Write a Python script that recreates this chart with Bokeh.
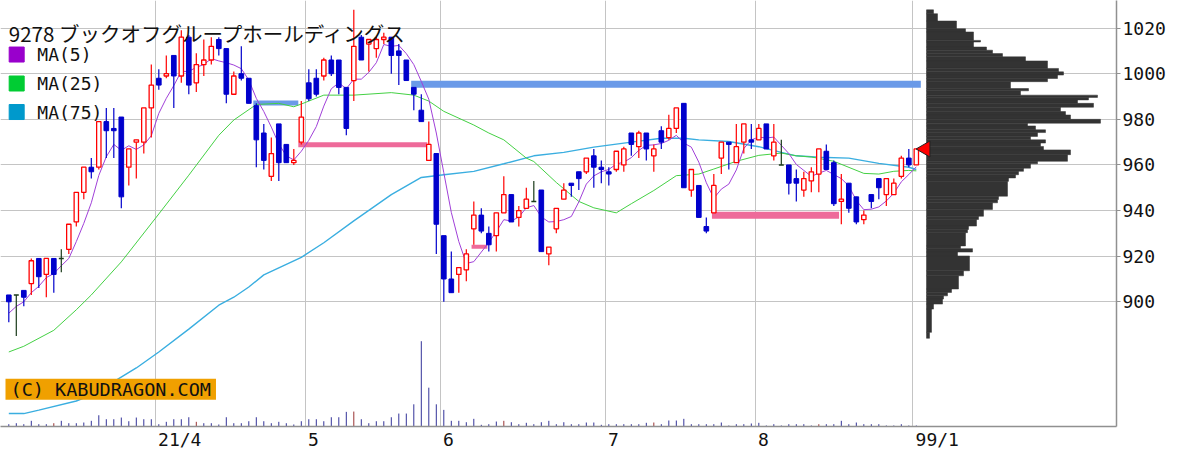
import numpy as np
import pandas as pd
from bokeh.plotting import figure
from bokeh.models import Range1d, FixedTicker, Label
from bokeh.embed import file_html
from bokeh.resources import INLINE

# ---------------- data ----------------
TITLE = "9278 ブックオフグループホールディングス"

opens = [903, 903, 905, 908, 919, 912, 919, 919, 923, 935,
         948, 959, 959, 979, 976, 981, 959, 970, 970, 985,
         998, 999, 1008, 999, 1016, 996, 1004, 1006, 1015, 1011,
         991, 1000, 998, 986, 974, 955, 978, 969, 961, 970,
         996, 998, 999, 1006, 1006, 994, 997, 1016, 1013, 1011,
         1015, 1016, 1010, 1006, 994, 984, 962, 965, 929, 910,
         912, 914, 932, 938, 930, 929, 939, 947, 937, 941,
         944, 949, 921, 932, 945, 952, 957, 957, 964, 959,
         957, 958, 960, 974, 968, 974, 964, 975, 972, 976,
         987, 949, 951, 933, 939, 963, 970, 961, 970, 971,
         971, 978, 964, 960, 960, 954, 949, 953, 956, 966,
         961, 944, 952, 946, 936, 947, 954, 947, 947, 955,
         963, 960]
highs = [903, 903, 905, 919, 919, 919, 919, 923, 934, 948,
         959, 963, 979, 985, 985, 981, 967, 971, 985, 1004,
         1002, 1008, 1008, 1019, 1017, 1009, 1015, 1016, 1016, 1011,
         1001, 1012, 998, 987, 978, 972, 978, 969, 967, 988,
         1002, 1002, 1007, 1008, 1006, 994, 1028, 1017, 1015, 1016,
         1018, 1016, 1013, 1006, 994, 991, 979, 965, 929, 922,
         915, 923, 944, 941, 933, 939, 955, 947, 942, 950,
         953, 949, 924, 941, 952, 952, 957, 963, 967, 962,
         959, 966, 968, 974, 975, 974, 969, 977, 982, 985,
         987, 958, 951, 937, 956, 970, 970, 978, 978, 978,
         978, 978, 978, 971, 960, 958, 957, 959, 967, 969,
         962, 956, 952, 946, 940, 947, 954, 954, 954, 964,
         967, 967]
lows = [891, 885, 898, 903, 906, 902, 904, 913, 921, 933,
        945, 954, 958, 963, 963, 941, 951, 954, 965, 972,
        993, 998, 985, 996, 991, 992, 999, 1004, 1008, 987,
        991, 997, 987, 959, 958, 953, 953, 961, 960, 969,
        988, 990, 997, 999, 991, 973, 988, 1006, 1001, 1007,
        1013, 1000, 995, 997, 984, 979, 962, 921, 900, 904,
        904, 909, 925, 930, 922, 922, 939, 935, 933, 941,
        944, 922, 916, 930, 945, 946, 949, 956, 950, 952,
        951, 957, 957, 964, 963, 962, 957, 967, 971, 974,
        950, 946, 937, 930, 939, 956, 958, 961, 965, 967,
        971, 967, 962, 960, 947, 944, 946, 948, 948, 958,
        942, 934, 939, 934, 934, 941, 945, 942, 947, 954,
        959, 960]
closes = [900, 903, 902, 918, 911, 919, 912, 919, 934, 948,
          959, 957, 979, 975, 975, 946, 967, 971, 985, 995,
          995, 1000, 999, 1016, 995, 1004, 1006, 1012, 1011, 991,
          999, 998, 987, 971, 962, 965, 961, 961, 962, 981,
          989, 991, 1006, 1000, 994, 976, 1012, 1006, 1015, 1015,
          1016, 1008, 1008, 997, 991, 979, 969, 934, 910, 904,
          915, 921, 938, 931, 925, 939, 947, 935, 940, 945,
          944, 922, 924, 941, 949, 951, 954, 963, 959, 958,
          956, 966, 967, 969, 974, 967, 967, 970, 976, 985,
          950, 958, 937, 931, 951, 970, 969, 968, 978, 970,
          976, 967, 970, 960, 952, 952, 954, 957, 967, 958,
          943, 945, 941, 935, 938, 944, 950, 954, 952, 963,
          960, 967]
# daily volume (arbitrary units)
volume = [23, 33, 23, 57, 23, 23, 33, 57, 33, 33,
          40, 57, 113, 73, 73, 90, 53, 90, 73, 73,
          23, 47, 73, 73, 93, 47, 33, 33, 20, 93,
          33, 33, 53, 93, 53, 33, 47, 33, 20, 53,
          73, 73, 53, 93, 93, 147, 150, 73, 33, 53,
          53, 93, 130, 130, 223, 857, 390, 223, 167, 57,
          57, 43, 77, 17, 23, 50, 57, 43, 23, 37,
          23, 43, 57, 23, 43, 23, 23, 40, 40, 17,
          23, 23, 23, 23, 23, 37, 40, 23, 60, 60,
          77, 23, 23, 23, 23, 40, 10, 23, 23, 30,
          37, 10, 23, 10, 23, 23, 23, 10, 23, 23,
          23, 57, 23, 40, 23, 23, 23, 10, 10, 23,
          10, 10]
vol_marked = [6, 25, 46, 66, 86, 108]

ma5_head = [895, 898, 900, 904]
ma25_idx = [0, 2, 6, 9, 11, 15, 20, 24, 28, 30, 33, 36, 38, 39, 42, 46, 51, 54, 56, 58,
            62, 64, 66, 69, 70, 73, 76, 78, 81, 83, 86, 89, 92, 94, 97, 100, 103, 105,
            107, 110, 114, 116, 118, 120, 121]
ma25_val = [878, 880.5, 887.5, 896.5, 903, 917.5, 938.5, 955.5, 973, 979.7, 986.5, 987,
            985.5, 986.7, 990.6, 990.6, 991.7, 990.6, 988, 983.5, 977.5, 974, 971, 963,
            961.5, 952.3, 944, 941.2, 939, 943, 948.8, 955.3, 956, 958.2, 961.6, 964.2,
            965.2, 964, 963.5, 961.6, 956.3, 956, 957.2, 957.6, 957.4]
ma75_idx = [0, 2, 4, 9, 12, 14, 17, 20, 24, 28, 30, 32, 34, 39, 42, 46, 51, 55, 58, 62,
            66, 70, 74, 78, 83, 87, 90, 92, 96, 100, 103, 105, 108, 112, 116, 120, 121]
ma75_val = [851, 851, 852.5, 856.5, 860.5, 865, 871, 878, 888, 898.5, 902, 906.5, 911.8,
            919.5, 925.9, 935.5, 947, 954.5, 955.7, 957.2, 960.5, 964, 965.5, 967.8, 970,
            971.7, 971.7, 971, 970.3, 968, 965.5, 964, 963.4, 963, 960.7, 959, 958]

month_start = [20, 40, 58, 80, 100, 121]
month_labels = ["21/4", "5", "6", "7", "8", "99/1"]
price_ticks = [900, 920, 940, 960, 980, 1000, 1020]

# horizontal levels (start candle, end candle, price)
level_start = [53.65, 32.6, 38.6, 61.7, 93.75]
level_end = [121.6, 38.6, 55.8, 63.8, 110.7]
level_price = [995.4, 987.1, 968.8, 924.1, 937.9]
level_kind = ["resistance", "resistance", "support", "support", "support"]

# volume-at-price profile
vp_edges = [1028.0, 1026.3, 1023.1, 1019.7, 1018.3, 1014.6, 1013.9, 1011.7, 1010.3, 1008.8,
            1007.4, 1005.6, 1002.3, 1000.8, 999.4, 997.9, 996.5, 993.5, 992.5, 990.6,
            989.6, 988.5, 987.0, 985.3, 983.4, 981.9, 980.0, 978.3, 977.1, 975.4,
            974.2, 972.5, 971.0, 969.6, 968.1, 966.6, 964.5, 961.6, 960.5, 958.6,
            957.2, 955.7, 954.3, 952.8, 946.3, 944.8, 943.4, 940.5, 937.5, 936.1,
            933.2, 931.7, 930.3, 924.5, 923.3, 921.8, 920.1, 913.6, 911.4, 905.6,
            904.1, 902.6, 901.2, 899.0, 896.8, 886.6, 884.0]
vp_volume = [7, 11, 30, 39, 47, 54, 47, 60, 66, 76,
             99, 121, 132, 137, 131, 121, 84, 102, 94, 171,
             162, 151, 167, 134, 139, 144, 174, 101, 109, 119,
             111, 104, 119, 114, 117, 144, 141, 111, 104, 97,
             92, 89, 82, 81, 72, 71, 66, 57, 52, 50,
             42, 41, 39, 34, 46, 31, 43, 37, 32, 25,
             21, 17, 16, 7, 5, 3]

legend_names = ["MA(5)", "MA(25)", "MA(75)"]

# ---------------- styles ----------------
UP, DOWN, DOJI = "#ff0000", "#0000cc", "#1a3a1a"
MA_COLORS = ["#a040d8", "#44d044", "#3aaee0"]
LEGEND_COLORS = ["#9900cc", "#00cc33", "#0099cc"]
LEVEL_COLORS = {"resistance": "#6a9ae8", "support": "#ee6a9a"}
LEVEL_WIDTHS = [7, 5, 5, 4, 7]
GRID = "#c4c4c4"
AXIS = "#909090"
MONO = "DejaVu Sans Mono"
MONO_PX = 18
CHAR_W = 0.602 * MONO_PX      # advance of one mono glyph in px
PX_PER_CANDLE = 7.5
LABEL_GAP = 3                 # px between month gridline and its label

W, H = 1200, 452
FW, FH = 1116, 428

p = figure(width=W, height=H, output_backend="svg", toolbar_location=None,
           x_range=Range1d(-1.107, 147.69), y_range=Range1d(845.33, 1032.09),
           y_axis_location="right",
           min_border_left=0, min_border_top=0,
           min_border_right=W - FW, min_border_bottom=H - FH,
           outline_line_color=None, background_fill_color="white",
           border_fill_color="white")
p.extra_y_ranges = {"vol": Range1d(0, 4280)}
p.extra_x_ranges = {"vp": Range1d(-926, 190)}

yt = FixedTicker(ticks=price_ticks)
p.yaxis.ticker = yt
p.ygrid.ticker = yt
p.yaxis.major_tick_out = 4
p.yaxis.major_tick_in = 0
p.yaxis.minor_tick_line_color = None
p.yaxis.major_tick_line_color = AXIS
p.yaxis.axis_line_color = AXIS
p.yaxis.axis_line_width = 1.5
p.yaxis.major_label_standoff = 2
p.yaxis.major_label_text_font = MONO
p.yaxis.major_label_text_font_size = f"{MONO_PX}px"
p.yaxis.major_label_text_color = "#111111"

# month boundaries -> grid; labels sit just right of each boundary
month_pos = [m - 0.5 for m in month_start]
p.xgrid.ticker = FixedTicker(ticks=month_pos)
label_pos = [pos + (LABEL_GAP + len(lab) * CHAR_W / 2) / PX_PER_CANDLE
             for pos, lab in zip(month_pos, month_labels)]
p.xaxis.ticker = FixedTicker(ticks=label_pos)
p.xaxis.major_label_overrides = {pos: lab for pos, lab in zip(label_pos, month_labels)}
p.xaxis.major_label_text_font = MONO
p.xaxis.major_label_text_font_size = f"{MONO_PX}px"
p.xaxis.major_label_text_color = "#111111"
p.xaxis.major_label_standoff = 2
p.xaxis.major_tick_out = 0
p.xaxis.major_tick_in = 0
p.xaxis.minor_tick_line_color = None
p.xaxis.axis_line_color = AXIS
p.xaxis.axis_line_width = 1.5
p.xgrid.grid_line_color = GRID
p.ygrid.grid_line_color = GRID

n = len(closes)
idx = np.arange(n)
o = np.array(opens, float)
c = np.array(closes, float)
hi = np.array(highs, float)
lo = np.array(lows, float)
kind = np.where(c > o, "up", np.where(c < o, "down", "doji"))
ccol = [{"up": UP, "down": DOWN, "doji": DOJI}[k] for k in kind]

# volume
vcol = ["#993333" if i in vol_marked else "#333399" for i in range(n)]
p.segment(x0=idx, y0=0, x1=idx, y1=volume, y_range_name="vol", color=vcol, line_width=1)

# levels
p.segment(x0=level_start, y0=level_price, x1=level_end, y1=level_price,
          color=[LEVEL_COLORS[k] for k in level_kind], line_width=LEVEL_WIDTHS,
          line_cap="butt")

# moving averages
ma5 = pd.Series(c).rolling(5).mean().to_numpy()
ma5[:4] = ma5_head
p.line(ma75_idx, ma75_val, color=MA_COLORS[2], line_width=1.4)
p.line(ma25_idx, ma25_val, color=MA_COLORS[1], line_width=1)
p.line(idx, ma5, color=MA_COLORS[0], line_width=1)

# candles
p.segment(x0=idx, y0=lo, x1=idx, y1=hi, color=ccol, line_width=1.2)
up = kind == "up"
dn = kind == "down"
dj = kind == "doji"
p.vbar(x=idx[up], width=0.58, top=c[up], bottom=o[up], fill_color="white",
       line_color=UP, line_width=1.3)
p.vbar(x=idx[dn], width=0.62, top=o[dn], bottom=c[dn], fill_color=DOWN,
       line_color=DOWN, line_width=1)
p.vbar(x=idx[dj], width=0.66, top=o[dj], bottom=c[dj], fill_color=DOJI,
       line_color=DOJI, line_width=1.5)

# volume profile
p.quad(left=0, right=vp_volume, top=vp_edges[:-1], bottom=vp_edges[1:],
       x_range_name="vp", fill_color="#333333", line_color="#333333", line_width=0.5)

# last price marker
p.scatter(x=[n - 1 + 1.2], y=[closes[-1]], marker="triangle", angle=np.pi / 2,
          size=16, fill_color="#ff0000", line_color="#222222", line_width=1)

# title
p.add_layout(Label(x=0, y=1017.7, text=TITLE, text_font="Noto Sans CJK JP",
                   text_font_size="20.5px", text_color="#111111",
                   text_baseline="alphabetic", text_align="left"))

# legend
leg_y = [1008.4, 995.7, 983.2]
p.scatter(x=[1.05] * 3, y=leg_y, marker="square", size=15, fill_color=LEGEND_COLORS,
          line_color=LEGEND_COLORS)
for name, yy in zip(legend_names, leg_y):
    p.add_layout(Label(x=3.8, y=yy, text=name, text_font=MONO, text_font_size=f"{MONO_PX}px",
                       text_color="#111111", text_baseline="middle", text_align="left"))

# watermark
p.add_layout(Label(x=-0.44, y=861.7, text="(C) KABUDRAGON.COM", text_font=MONO,
                   text_font_size="18.5px", text_color="#111111", text_baseline="middle",
                   text_align="left", background_fill_color="#f0a000",
                   padding=dict(x=5, y=0)))

open("out.html", "w", encoding="utf-8").write(file_html(p, INLINE))
